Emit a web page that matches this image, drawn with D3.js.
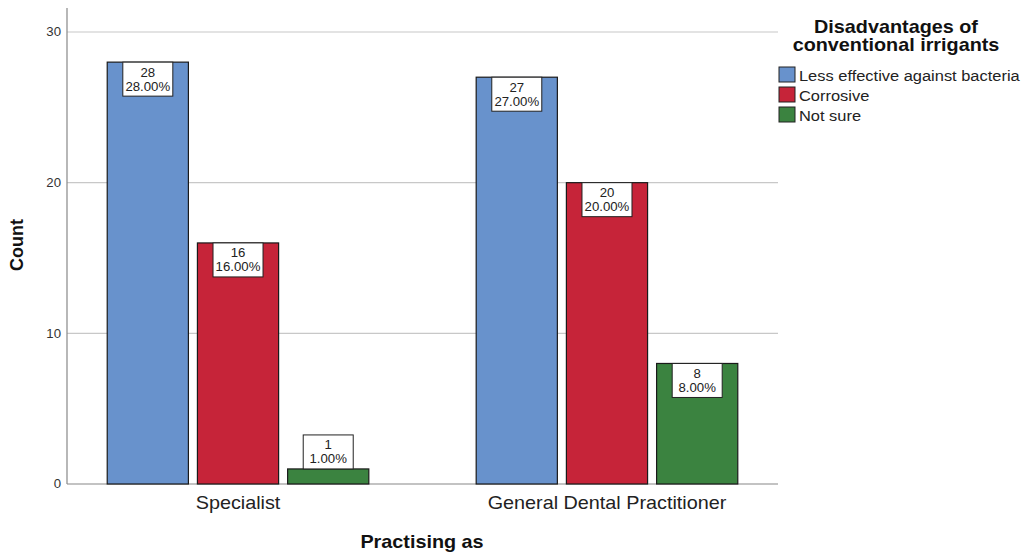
<!DOCTYPE html>
<html><head><meta charset="utf-8">
<script src="https://cdn.jsdelivr.net/npm/d3@7"></script>
<style>body{margin:0;background:#fff;} svg{display:block;font-family:"Liberation Sans",Arial,sans-serif;}</style>
</head><body>
<svg id="c" width="1023" height="554"></svg>
<script>
const groups = ["Specialist", "General Dental Practitioner"];
const seriesNames = ["Less effective against bacteria", "Corrosive", "Not sure"];
const seriesColors = ["#6892cc", "#c62439", "#3b8340"];
const lessEffective = [28, 27];
const corrosive = [16, 20];
const notSure = [1, 8];
const percentLess = ["28.00%", "27.00%"];
const percentCorrosive = ["16.00%", "20.00%"];
const percentNotSure = ["1.00%", "8.00%"];
const yTicks = [0, 10, 20, 30];
const legendTitle = ["Disadvantages of", "conventional irrigants"];

(function() {
const values = [lessEffective, corrosive, notSure];
const percents = [percentLess, percentCorrosive, percentNotSure];
const S = 1.1; // horizontal text stretch seen in the reference

function stretch(sel, s) {
  const k = s || S;
  sel.each(function() {
    const x = +this.getAttribute("x") || 0;
    this.setAttribute("transform", `translate(${x * (1 - k)},0) scale(${k},1)`);
  });
}

const svg = d3.select("#c");
const mLeft = 67, mRight = 778, mTop = 32, mBottom = 484;

const y = d3.scaleLinear().domain([0, 30]).range([mBottom, mTop]);
const x0 = d3.scaleBand().domain(groups).range([mLeft, mRight]).paddingInner(0.291).paddingOuter(0.109);
const x1 = d3.scaleBand().domain(seriesNames).range([0, x0.bandwidth()]).paddingInner(0.1).paddingOuter(0);

// gridlines
svg.append("g").selectAll("line").data(yTicks.filter(d => d > 0)).join("line")
  .attr("x1", mLeft).attr("x2", mRight).attr("y1", d => y(d)).attr("y2", d => y(d))
  .attr("stroke", "#c8c8c8").attr("stroke-width", 1.2);

// y axis
const yAxis = svg.append("g").attr("transform", `translate(${mLeft},0)`)
  .call(d3.axisLeft(y).tickValues(yTicks).tickSize(0).tickPadding(6));
yAxis.select(".domain").remove();
yAxis.selectAll("text").attr("font-size", 12).attr("fill", "#333").attr("font-family", "Liberation Sans, Arial, sans-serif");
stretch(yAxis.selectAll("text"));
svg.append("line").attr("x1", mLeft).attr("x2", mLeft).attr("y1", 8).attr("y2", mBottom)
  .attr("stroke", "#888").attr("stroke-width", 1.2);

// baseline
svg.append("line").attr("x1", mLeft).attr("x2", mRight).attr("y1", mBottom).attr("y2", mBottom)
  .attr("stroke", "#888").attr("stroke-width", 1.2);

// x axis labels
const xAxis = svg.append("g").attr("transform", `translate(0,${mBottom})`)
  .call(d3.axisBottom(x0).tickSize(0).tickPadding(12));
xAxis.select(".domain").remove();
xAxis.selectAll("text").attr("font-size", 18).attr("fill", "#222").attr("font-family", "Liberation Sans, Arial, sans-serif");
stretch(xAxis.selectAll("text"));

// bars
const data = [];
groups.forEach((g, gi) => seriesNames.forEach((s, si) => data.push({g, s, si, v: values[si][gi], p: percents[si][gi]})));

const bars = svg.append("g").selectAll("g").data(data).join("g")
  .attr("transform", d => `translate(${x0(d.g) + x1(d.s)},0)`);
bars.append("rect")
  .attr("x", 0).attr("width", x1.bandwidth())
  .attr("y", d => y(d.v)).attr("height", d => y(0) - y(d.v))
  .attr("fill", d => seriesColors[d.si]).attr("stroke", "#1a1a1a").attr("stroke-width", 1.2);

// labels
const bw = x1.bandwidth(), lw = 50, lh = 34;
bars.each(function(d) {
  const g = d3.select(this);
  const ty = d.v < 3 ? y(d.v) - lh : y(d.v);
  g.append("rect").attr("x", bw / 2 - lw / 2).attr("y", ty).attr("width", lw).attr("height", lh)
    .attr("fill", "#fff").attr("stroke", "#222").attr("stroke-width", 1);
  g.append("text").attr("class", "lbl").attr("x", bw / 2).attr("y", ty + 14.5).attr("text-anchor", "middle")
    .attr("font-size", 12).attr("fill", "#222").text(d.v);
  g.append("text").attr("class", "lbl").attr("x", bw / 2).attr("y", ty + 28.5).attr("text-anchor", "middle")
    .attr("font-size", 12).attr("fill", "#222").text(d.p);
});
stretch(bars.selectAll("text.lbl"));

// axis titles
svg.append("text").attr("transform", "translate(23,245) rotate(-90)").attr("text-anchor", "middle")
  .attr("font-size", 18).attr("font-weight", "bold").attr("fill", "#111").text("Count");
stretch(svg.append("text").attr("x", 422).attr("y", 548).attr("text-anchor", "middle")
  .attr("font-size", 18).attr("font-weight", "bold").attr("fill", "#111").text("Practising as"));

// legend
const lg = svg.append("g");
stretch(lg.selectAll("text.t").data(legendTitle).join("text").attr("class", "t")
  .attr("x", 896).attr("y", (d, i) => 33 + i * 18.5).attr("text-anchor", "middle")
  .attr("font-size", 18).attr("font-weight", "bold").attr("fill", "#111").text(d => d));
const items = lg.selectAll("g.i").data(seriesNames).join("g").attr("class", "i")
  .attr("transform", (d, i) => `translate(779,${67 + i * 20})`);
items.append("rect").attr("width", 16).attr("height", 15)
  .attr("fill", (d, i) => seriesColors[i]).attr("stroke", "#222").attr("stroke-width", 1);
stretch(items.append("text").attr("x", 20).attr("y", 13.5).attr("font-size", 15.5).attr("fill", "#222").text(d => d), 1.06);
})();
</script>
</body></html>
